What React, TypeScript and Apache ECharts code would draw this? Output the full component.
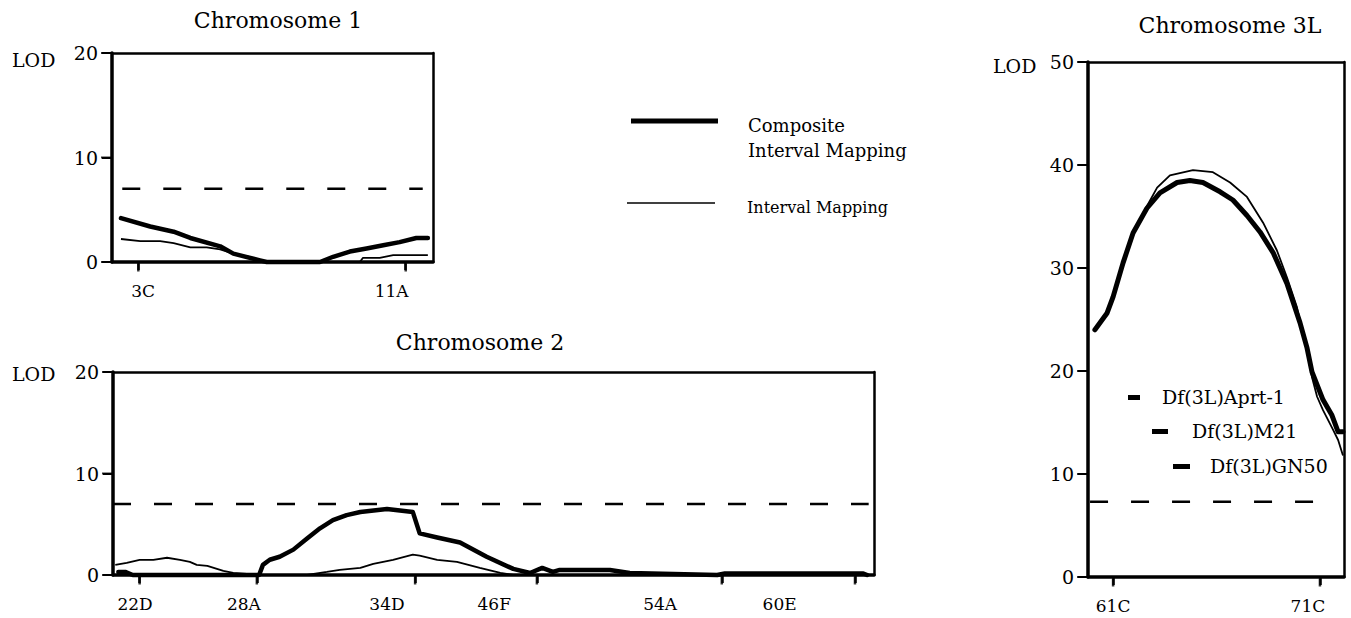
import React, { useEffect, useRef } from "react";
import * as echarts from "echarts";

const FONT = "DejaVu Serif";

// ---------- Chromosome 1 (x: map position 0-100, y: LOD) ----------
const chr1Cim: number[][] = [
  [2.8, 4.2], [11.9, 3.4], [19.2, 2.9], [24.4, 2.3], [33.7, 1.5], [37.8, 0.8],
  [46.1, 0.15], [48.2, 0], [64.8, 0], [68.9, 0.5], [74.1, 1.0], [79.3, 1.3],
  [84.5, 1.6], [89.6, 1.9], [94.8, 2.3], [98.4, 2.3],
];
const chr1Im: number[][] = [
  [2.8, 2.2], [8.8, 2.0], [15.0, 2.0], [19.2, 1.8], [24.4, 1.4], [29.5, 1.4],
  [33.7, 1.2], [37.8, 0.8], [44.0, 0.3], [48.2, 0], [77.2, 0], [78.2, 0.4],
  [83.4, 0.4], [87.6, 0.65], [98.4, 0.65],
];
const chr1Threshold = 7.0;
const chr1ThresholdSpan = [3.2, 96.8];
const chr1TickPos = [8.2, 91.5];
const chr1LabelPos = [9.7, 87.1];
const chr1Labels = ["3C", "11A"];
const chr1YTicks = [0, 10, 20];

// ---------- Chromosome 2 ----------
const chr2Cim: number[][] = [
  [0.7, 0.3], [1.6, 0.3], [2.6, 0], [19.2, 0], [19.7, 1.0], [20.6, 1.5],
  [21.9, 1.8], [23.7, 2.5], [25.5, 3.6], [27.2, 4.6], [28.9, 5.4], [30.7, 5.9],
  [32.5, 6.2], [36.0, 6.5], [39.4, 6.2], [40.3, 4.1], [42.6, 3.7], [45.6, 3.2],
  [49.1, 1.8], [52.6, 0.6], [54.8, 0.2], [56.4, 0.7], [57.8, 0.3], [58.7, 0.5],
  [65.3, 0.5], [67.9, 0.2], [79.4, 0.0], [80.4, 0.15], [98.6, 0.15], [99.1, 0],
];
const chr2Im: number[][] = [
  [0.3, 1.0], [1.8, 1.2], [3.5, 1.5], [5.3, 1.5], [7.1, 1.7], [8.8, 1.5],
  [10.1, 1.3], [11.0, 1.0], [12.4, 0.9], [14.5, 0.4], [15.8, 0.2], [17.6, 0.1],
  [19.1, 0], [25.5, 0], [28.1, 0.3], [29.8, 0.5], [32.5, 0.7], [34.2, 1.1],
  [36.8, 1.5], [39.4, 2.0], [40.3, 1.9], [42.6, 1.5], [45.2, 1.3], [48.2, 0.7],
  [50.9, 0.2], [52.6, 0], [99.1, 0],
];
const chr2Threshold = 7.0;
const chr2ThresholdSpan = [0, 99.3];
const chr2TickPos = [3.5, 18.9, 39.7, 55.7, 80.0, 97.5];
const chr2LabelPos = [2.9, 17.2, 36.0, 50.1, 71.9, 87.6];
const chr2Labels = ["22D", "28A", "34D", "46F", "54A", "60E"];
const chr2YTicks = [0, 10, 20];

// ---------- Chromosome 3L ----------
const chr3Cim: number[][] = [
  [2.7, 24.0], [7.4, 25.6], [9.8, 27.2], [13.7, 30.5], [17.6, 33.4], [23.0, 35.8],
  [28.1, 37.3], [34.8, 38.3], [39.8, 38.5], [44.9, 38.3], [51.6, 37.4], [56.6, 36.6],
  [62.1, 35.1], [67.2, 33.5], [72.3, 31.5], [77.7, 28.5], [82.8, 24.7], [85.5, 22.3],
  [87.5, 19.9], [91.8, 17.2], [95.3, 15.7], [97.7, 14.1], [99.6, 14.1],
];
const chr3Im: number[][] = [
  [2.7, 24.0], [7.4, 25.6], [9.8, 27.2], [13.7, 30.5], [17.6, 33.4], [23.0, 36.0],
  [27.0, 37.8], [32.0, 39.0], [41.0, 39.5], [48.8, 39.3], [55.5, 38.3], [62.1, 36.9],
  [68.4, 34.4], [73.8, 31.7], [77.7, 29.1], [81.6, 26.2], [85.5, 22.0], [87.5, 19.4],
  [89.5, 17.5], [91.8, 16.2], [95.7, 14.3], [97.7, 13.3], [99.6, 11.8],
];
const chr3Threshold = 7.3;
const chr3ThresholdSpan = [0.8, 88.7];
const chr3TickPos = [9.8, 90.6];
const chr3LabelPos = [9.8, 85.9];
const chr3Labels = ["61C", "71C"];
const chr3YTicks = [0, 10, 20, 30, 40, 50];

const seriesNames = ["Composite Interval Mapping", "Interval Mapping"];
const deficiencies = ["Df(3L)Aprt-1", "Df(3L)M21", "Df(3L)GN50"];

function labelFor(positions: number[], labels: string[]) {
  return (v: number) => {
    let best = 0;
    let bd = Infinity;
    positions.forEach((p, i) => {
      const d = Math.abs(p - v);
      if (d < bd) {
        bd = d;
        best = i;
      }
    });
    return labels[best];
  };
}

function xAxisFor(gridIndex: number, ticks: number[], labelPos: number[], labels: string[]) {
  return {
    type: "value",
    gridIndex,
    position: "bottom",
    min: 0,
    max: 100,
    axisLine: { show: true, onZero: false, lineStyle: { color: "#000", width: 3.5 } },
    axisTick: {
      show: true,
      inside: false,
      customValues: ticks,
      length: 8,
      lineStyle: { color: "#000", width: 2.5 },
    },
    axisLabel: {
      show: true,
      customValues: labelPos,
      formatter: labelFor(labelPos, labels),
      color: "#000",
      fontFamily: FONT,
      fontSize: 17,
      margin: 20,
    },
    splitLine: { show: false },
  };
}

function topAxisFor(gridIndex: number) {
  return {
    type: "value",
    gridIndex,
    position: "top",
    min: 0,
    max: 100,
    axisLine: { show: true, onZero: false, lineStyle: { color: "#000", width: 2.5 } },
    axisTick: { show: false },
    axisLabel: { show: false },
    splitLine: { show: false },
  };
}

function yAxisFor(gridIndex: number, max: number) {
  return {
    type: "value",
    gridIndex,
    position: "left",
    min: 0,
    max,
    interval: 10,
    axisLine: { show: true, onZero: false, lineStyle: { color: "#000", width: 3.5 } },
    axisTick: { show: true, inside: false, length: 10, lineStyle: { color: "#000", width: 2 } },
    axisLabel: { color: "#000", fontFamily: FONT, fontSize: 19, margin: 14 },
    splitLine: { show: false },
  };
}

function rightAxisFor(gridIndex: number, max: number) {
  return {
    type: "value",
    gridIndex,
    position: "right",
    min: 0,
    max,
    interval: 10,
    axisLine: { show: true, onZero: false, lineStyle: { color: "#000", width: 2.5 } },
    axisTick: { show: false },
    axisLabel: { show: false },
    splitLine: { show: false },
  };
}

function panelSeries(
  idx: number,
  cim: number[][],
  im: number[][],
  th: number,
  span: number[],
  thick: number,
  xTicks: number[],
  yTicks: number[]
) {
  return [
    {
      name: seriesNames[0],
      type: "line",
      xAxisIndex: idx,
      yAxisIndex: idx,
      data: cim,
      symbol: "none",
      clip: false,
      z: 4,
      lineStyle: { color: "#000", width: thick, join: "round", cap: "round" },
    },
    {
      name: seriesNames[1],
      type: "line",
      xAxisIndex: idx,
      yAxisIndex: idx,
      data: im,
      symbol: "none",
      clip: false,
      z: 3,
      lineStyle: { color: "#000", width: 1.8 },
    },
    {
      name: "threshold",
      type: "line",
      xAxisIndex: idx,
      yAxisIndex: idx,
      data: [[span[0], th], [span[1], th]],
      symbol: "none",
      z: 2,
      lineStyle: { color: "#000", width: 2.5, type: [18, 23] },
    },
    {
      name: "x ticks",
      type: "scatter",
      xAxisIndex: idx,
      yAxisIndex: idx,
      data: xTicks.map((t) => [t, 0]),
      symbol: "rect",
      symbolSize: [2.5, 8],
      symbolOffset: [0, 5.5],
      clip: false,
      silent: true,
      z: 6,
      itemStyle: { color: "#000" },
    },
    {
      name: "y ticks",
      type: "scatter",
      xAxisIndex: idx,
      yAxisIndex: idx,
      data: yTicks.map((t) => [0, t]),
      symbol: "rect",
      symbolSize: [10, 2],
      symbolOffset: [-6, 0],
      clip: false,
      silent: true,
      z: 6,
      itemStyle: { color: "#000" },
    },
  ];
}

function txt(text: string, x: number, y: number, size: number, align = "left") {
  return {
    type: "text",
    x,
    y,
    style: {
      text,
      fill: "#000",
      fontFamily: FONT,
      fontSize: size,
      align,
      verticalAlign: "middle",
    },
  };
}

export default function App() {
  const ref = useRef<HTMLDivElement>(null);
  useEffect(() => {
    if (!ref.current) return;
    const chart = echarts.init(ref.current, undefined, { renderer: "svg" });
    const option: any = {
      animation: false,
      backgroundColor: "#fff",
      textStyle: { fontFamily: FONT },
      grid: [
        { left: 112, top: 53, width: 321, height: 209 },
        { left: 113, top: 372, width: 761, height: 203 },
        { left: 1088, top: 62, width: 256, height: 515 },
      ],
      xAxis: [
        xAxisFor(0, chr1TickPos, chr1LabelPos, chr1Labels),
        xAxisFor(1, chr2TickPos, chr2LabelPos, chr2Labels),
        xAxisFor(2, chr3TickPos, chr3LabelPos, chr3Labels),
        topAxisFor(0),
        topAxisFor(1),
        topAxisFor(2),
      ],
      yAxis: [
        yAxisFor(0, 20),
        yAxisFor(1, 20),
        yAxisFor(2, 50),
        rightAxisFor(0, 20),
        rightAxisFor(1, 20),
        rightAxisFor(2, 50),
      ],
      series: [
        ...panelSeries(0, chr1Cim, chr1Im, chr1Threshold, chr1ThresholdSpan, 4.5, chr1TickPos, chr1YTicks),
        ...panelSeries(1, chr2Cim, chr2Im, chr2Threshold, chr2ThresholdSpan, 4.5, chr2TickPos, chr2YTicks),
        ...panelSeries(2, chr3Cim, chr3Im, chr3Threshold, chr3ThresholdSpan, 5, chr3TickPos, chr3YTicks),
      ],
      graphic: [
        txt("Chromosome 1", 278, 20, 22, "center"),
        txt("Chromosome 2", 480, 342, 22, "center"),
        txt("Chromosome 3L", 1230, 25, 22, "center"),
        txt("LOD", 12, 60, 19),
        txt("LOD", 12, 374, 19),
        txt("LOD", 993, 66, 19),
        {
          type: "line",
          shape: { x1: 631, y1: 121, x2: 718, y2: 121 },
          style: { stroke: "#000", lineWidth: 5 },
        },
        {
          type: "text",
          x: 748,
          y: 113,
          style: {
            text: "Composite\nInterval Mapping",
            fill: "#000",
            fontFamily: FONT,
            fontSize: 18,
            lineHeight: 25,
            align: "left",
            verticalAlign: "top",
          },
        },
        {
          type: "line",
          shape: { x1: 627, y1: 203, x2: 715, y2: 203 },
          style: { stroke: "#000", lineWidth: 1.5 },
        },
        txt(seriesNames[1], 747, 207, 16),
        { type: "rect", shape: { x: 1128, y: 395, width: 12, height: 5 }, style: { fill: "#000" } },
        txt(deficiencies[0], 1162, 397, 19),
        { type: "rect", shape: { x: 1152, y: 429, width: 16, height: 5 }, style: { fill: "#000" } },
        txt(deficiencies[1], 1192, 431, 19),
        { type: "rect", shape: { x: 1173, y: 464, width: 17, height: 5 }, style: { fill: "#000" } },
        txt(deficiencies[2], 1210, 466, 19),
      ],
    };
    chart.setOption(option);
    return () => chart.dispose();
  }, []);
  return (
    <div
      ref={ref}
      style={{ position: "fixed", left: 0, top: 0, width: 1351, height: 618, background: "#fff" }}
    />
  );
}
